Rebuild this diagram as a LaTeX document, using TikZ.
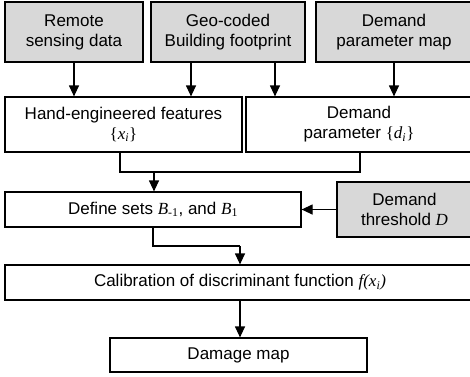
\documentclass[tikz,border=0pt]{standalone}
\usepackage{fontspec}
\setmainfont{Liberation Sans}
\newfontfamily\tms{Liberation Serif}
\usetikzlibrary{arrows.meta}
\definecolor{inputgray}{RGB}{216,216,216}
% italic variables and their subscripts in a serif face
\newcommand\mi[1]{{\tms\itshape #1}}
\newcommand\sbs[1]{\textsubscript{\tms #1}}
\tikzset{
  box/.style={draw=black, line width=1.2pt, inner sep=0pt, align=center,
    font=\fontsize{17}{20}\selectfont},
  inbox/.style={box, fill=inputgray},
  arr/.style={line width=1.2pt, -{Triangle[width=10pt,length=11pt]}},
  link/.style={line width=1.2pt}
}
\begin{document}
\begin{tikzpicture}[x=1pt,y=-1pt]
\useasboundingbox (0,0) rectangle (470,376);
\clip (0,0) rectangle (470,376);
% data sources
\node[inbox, minimum width=138pt, minimum height=60pt] (rs) at (74,32) {Remote\\sensing data};
\node[inbox, minimum width=154pt, minimum height=60pt] (geo) at (228,32) {Geo-coded\\Building footprint};
\node[inbox, minimum width=156pt, minimum height=60pt] (dpm) at (394,32) {Demand\\parameter map};
% derived quantities
\node[box, minimum width=237pt, minimum height=55pt] (hef) at (123.5,124.5) {Hand-engineered features\\{\tms\{}\mi{x}\sbs{\itshape i}{\tms\}}};
\node[box, minimum width=226pt, minimum height=55pt] (dp) at (359,124.5) {Demand\\parameter {\tms\{}\mi{d}\sbs{\itshape i}{\tms\}}};
% set definition and threshold
\node[box, minimum width=296pt, minimum height=35pt] (def) at (153,209.5) {Define sets \mi{B}\sbs{-1}, and \mi{B}\sbs{1}};
\node[inbox, minimum width=135pt, minimum height=55pt] (thr) at (404.5,209.5) {Demand\\threshold \mi{D}};
% calibration and output
\node[box, minimum width=470pt, minimum height=35pt] (cal) at (240,282.5) {Calibration of discriminant function \mi{f(x}\sbs{\itshape i}\mi{)}};
\node[box, minimum width=257pt, minimum height=34pt] (dmg) at (238.5,355) {Damage map};
% connectors
\draw[arr] (rs.south) -- (rs.south |- hef.north);
\draw[arr] ([xshift=-37pt]geo.south) -- ([xshift=-37pt]geo.south |- hef.north);
\draw[arr] ([xshift=47pt]geo.south) -- ([xshift=47pt]geo.south |- dp.north);
\draw[arr] (dpm.south) -- (dpm.south |- dp.north);
\coordinate (jn) at (154,172);
\draw[link] ([xshift=-3.5pt]hef.south) |- (jn) -| ([xshift=1pt]dp.south);
\draw[arr] (jn) -- (jn |- def.north);
\draw[arr] (thr.west) -- (def.east);
\coordinate (kn) at (240,246);
\draw[link] (def.south) |- (kn);
\draw[arr] (kn) -- (kn |- cal.north);
\draw[arr] (kn |- cal.south) -- (kn |- dmg.north);
\end{tikzpicture}
\end{document}
